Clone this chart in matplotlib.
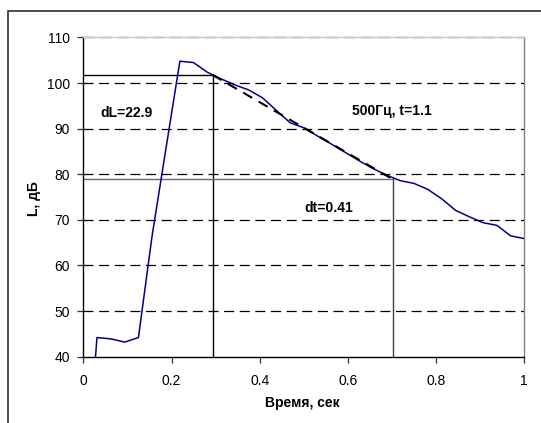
import matplotlib
matplotlib.use("Agg")
import matplotlib.pyplot as plt
from matplotlib.patches import Rectangle

plt.rcParams['font.family'] = ['Liberation Sans', 'DejaVu Sans']

# Sound level decay record, 500 Hz band
time_s = [0.0, 0.031, 0.063, 0.094, 0.125, 0.156, 0.188, 0.219, 0.25, 0.281,
          0.313, 0.344, 0.375, 0.406, 0.438, 0.469, 0.5, 0.531, 0.563, 0.594,
          0.625, 0.656, 0.688, 0.719, 0.75, 0.781, 0.813, 0.844, 0.875, 0.906,
          0.938, 0.969, 1.0]
level_db = [5.0, 44.2, 43.9, 43.2, 44.2, 66.5, 86.0, 104.8, 104.5, 102.4,
            100.9, 99.6, 98.5, 96.8, 94.0, 91.3, 90.2, 88.4, 86.6, 84.8,
            83.0, 81.3, 79.8, 78.6, 78.0, 76.7, 74.6, 72.1, 70.7, 69.4,
            68.8, 66.5, 65.9]

# Fitted decay segment
fit_t = [0.293, 0.702]
fit_L = [101.8, 78.9]

x_ticks = [0, 0.2, 0.4, 0.6, 0.8, 1]
x_tick_labels = ["0", "0.2", "0.4", "0.6", "0.8", "1"]
y_ticks = [40, 50, 60, 70, 80, 90, 100, 110]

W, H = 541, 423
FS = 10
fig = plt.figure(figsize=(W / 100, H / 100), dpi=100)
fig.patch.set_facecolor('white')

# outer chart frame
fig.add_artist(Rectangle((8 / W, -0.1), 1.2, (1 - 11 / H) + 0.1,
                         transform=fig.transFigure, fill=False,
                         edgecolor='#1a1a1a', linewidth=1.1))

ax = fig.add_axes([83.3 / W, 1 - 356.7 / H, (524.3 - 83.3) / W, (356.7 - 37.5) / H])
ax.set_xlim(0, 1)
ax.set_ylim(40, 110)

# horizontal dashed grid
for yv in y_ticks[1:-1]:
    ax.axhline(yv, color='black', linewidth=0.9, dashes=(8, 4.5), zorder=1)
ax.axhline(110, color='#7a7a7a', linewidth=1.0, dashes=(8, 4.5), zorder=1, clip_on=False)

# helper lines marking the fitted interval
ax.plot([0, fit_t[0]], [fit_L[0], fit_L[0]], color='black', linewidth=1.0, zorder=2)
ax.plot([fit_t[0], fit_t[0]], [40, fit_L[0]], color='black', linewidth=1.0, zorder=2)
ax.plot([0, fit_t[1]], [fit_L[1], fit_L[1]], color='#6a6a6a', linewidth=1.0, zorder=2)
ax.plot([fit_t[1], fit_t[1]], [40, fit_L[1]], color='#404040', linewidth=1.0, zorder=2)

ax.plot(time_s, level_db, color='#000090', linewidth=1.1, zorder=3)
ax.plot(fit_t, fit_L, color='black', linewidth=1.5, dashes=(5, 3.5), zorder=4)

ax.text(0.099, 93.4, "dL=22.9", fontsize=FS, fontweight='bold', ha='center', va='center')
ax.text(0.700, 93.9, "500Гц, t=1.1", fontsize=FS, fontweight='bold', ha='center', va='center')
ax.text(0.557, 72.7, "dt=0.41", fontsize=FS, fontweight='bold', ha='center', va='center')

ax.set_xticks(x_ticks)
ax.set_xticklabels(x_tick_labels)
ax.set_yticks(y_ticks)
ax.tick_params(axis='both', direction='out', length=4, width=0.9, labelsize=FS, color='#333333')
ax.tick_params(axis='x', pad=8.5)
ax.tick_params(axis='y', pad=5.5)

for side in ('left', 'bottom'):
    ax.spines[side].set_color('black')
    ax.spines[side].set_linewidth(1.0)
ax.spines['top'].set_color('#c8c8c8')
ax.spines['top'].set_linewidth(1.0)
ax.spines['right'].set_color('#808080')
ax.spines['right'].set_linewidth(1.0)

fig.text(34.3 / W, 1 - 199 / H, "L, дБ", rotation=90, fontsize=FS,
         fontweight='bold', ha='center', va='center')
fig.text(302.5 / W, 1 - 403.3 / H, "Время, сек", fontsize=FS,
         fontweight='bold', ha='center', va='center')

fig.savefig("out.png", dpi=100, facecolor='white')
